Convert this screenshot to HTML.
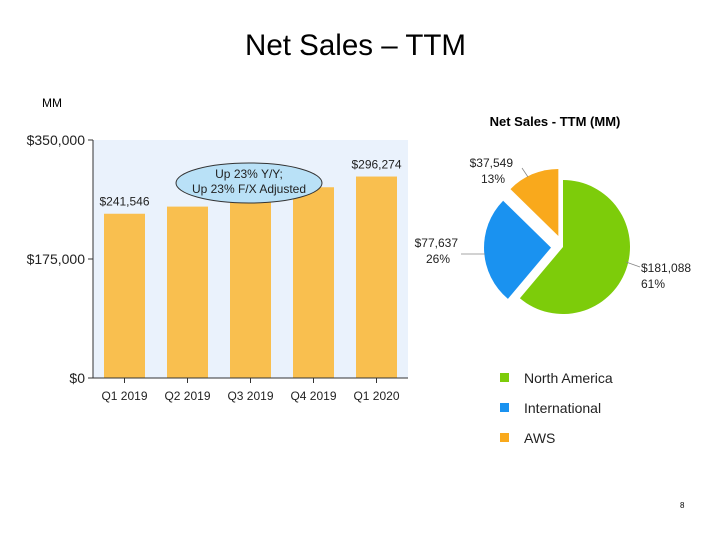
<!DOCTYPE html>
<html><head><meta charset="utf-8"><style>
html,body{margin:0;padding:0;background:#fff;}
svg{display:block;font-family:"Liberation Sans",Arial,sans-serif;}
</style></head><body>
<svg id="c" width="710" height="542" viewBox="0 0 710 542">
<text x="245" y="55" font-size="30" textLength="221" lengthAdjust="spacingAndGlyphs" fill="#000">Net Sales – TTM</text>
<text x="42" y="107" font-size="12" fill="#000">MM</text>
<rect x="93" y="140" width="315" height="238" fill="#eaf2fc"/>
<g id="bars"></g>
<g id="yaxis"></g>
<g id="xaxis"></g>
<g>
<ellipse cx="249" cy="183" rx="73" ry="20" fill="#b9e1f7" stroke="#333" stroke-width="1"/>
<text x="249" y="178" font-size="12" text-anchor="middle" fill="#222">Up 23% Y/Y;</text>
<text x="249" y="193" font-size="12" text-anchor="middle" fill="#222">Up 23% F/X Adjusted</text>
</g>
<text x="555" y="126" font-size="13" font-weight="bold" text-anchor="middle" fill="#000">Net Sales - TTM (MM)</text>
<g id="pie"></g>
<g id="legend"></g>
<text x="680" y="508" font-size="8" fill="#000">8</text>
</svg>
<script>
const categories=["Q1 2019","Q2 2019","Q3 2019","Q4 2019","Q1 2020"];
const salesValues=[241546,252063,260509,280522,296274];
const valueLabels=["$241,546","","","","$296,274"];
const yTicks=[0,175000,350000];
const yTickLabels=["$0","$175,000","$350,000"];
const segments=["North America","International","AWS"];
const segmentValues=[181088,77637,37549];
const segmentLabels=["$181,088","$77,637","$37,549"];
const segmentPcts=["61%","26%","13%"];
const segmentColors=["#7dcc0a","#1a92f0","#f9a91c"];

const NS="http://www.w3.org/2000/svg";
function mk(t,a,p){const e=document.createElementNS(NS,t);for(const k in a)e.setAttribute(k,a[k]);p.appendChild(e);return e;}
const X0=93,Y0=378,Y1=140,band=63,bw=41;
const y=v=>Y0-(v/350000)*(Y0-Y1);
const xc=i=>X0+band*i+band/2;
const bars=document.getElementById('bars');
salesValues.forEach((v,i)=>{
 const r=mk('rect',{x:xc(i)-bw/2,y:y(v),width:bw,height:Y0-y(v),fill:'#f9bf4f'},bars);
 
 
 if(valueLabels[i]){const t=mk('text',{x:xc(i),y:y(v)-8,'font-size':12,'text-anchor':'middle',fill:'#222'},bars);t.textContent=valueLabels[i];
 
 }
});
const ya=document.getElementById('yaxis');
mk('line',{x1:X0,y1:Y1,x2:X0,y2:Y0,stroke:'#333'},ya);
yTicks.forEach((v,i)=>{mk('line',{x1:X0-5,y1:y(v),x2:X0,y2:y(v),stroke:'#333'},ya);
 const t=mk('text',{x:X0-8,y:y(v)+5,'font-size':14,'text-anchor':'end',fill:'#222'},ya);t.textContent=yTickLabels[i];
 
 });
const xa=document.getElementById('xaxis');
mk('line',{x1:X0-5,y1:Y0,x2:X0+band*5,y2:Y0,stroke:'#333'},xa);
categories.forEach((c,i)=>{mk('line',{x1:xc(i),y1:Y0,x2:xc(i),y2:Y0+5,stroke:'#333'},xa);
 const t=mk('text',{x:xc(i),y:Y0+22,'font-size':12,'text-anchor':'middle',fill:'#222'},xa);t.textContent=c;
 
 });
// pie
const pie=document.getElementById('pie');
const cx=563,cy=247,R=67,tot=segmentValues.reduce((a,b)=>a+b,0);
const offs=[0,12,12];
let a0=0;
const lblPos=[[641,272,'start'],[458,247,'end'],[513,167,'end']];
const leader=[[[626,262],[640,267]],[[485,254],[461,254]],[[528,177],[522,168]]];
segmentValues.forEach((v,i)=>{
 const a1=a0+v/tot*2*Math.PI, am=(a0+a1)/2;
 const ox=cx+offs[i]*Math.sin(am), oy=cy-offs[i]*Math.cos(am);
 const p=(a)=>[ox+R*Math.sin(a),oy-R*Math.cos(a)];
 const s=p(a0),e=p(a1),lg=(a1-a0)>Math.PI?1:0;
 const path=mk('path',{d:`M${ox},${oy}L${s[0]},${s[1]}A${R},${R} 0 ${lg} 1 ${e[0]},${e[1]}Z`,fill:segmentColors[i]},pie);
 
 
 const L=leader[i];mk('polyline',{points:L.map(q=>q.join(',')).join(' '),fill:'none',stroke:'#888','stroke-width':0.8},pie);
 const [lx,ly,anc]=lblPos[i];
 const t=mk('text',{x:lx,y:ly,'font-size':12,'text-anchor':anc,fill:'#222'},pie);
 
 
 mk('tspan',{x:lx},t).textContent=segmentLabels[i];
 mk('tspan',{x:anc==='start'?lx:lx-8,dy:16},t).textContent=segmentPcts[i];
 a0=a1;
});
const lg=document.getElementById('legend');
segments.forEach((s,i)=>{
 const g=mk('g',{},lg);
 
 
 mk('rect',{x:500,y:373+i*30,width:9,height:9,fill:segmentColors[i]},g);
 const t=mk('text',{x:524,y:383+i*30,'font-size':14,fill:'#222'},g);t.textContent=s;
});
</script>
</body></html>
